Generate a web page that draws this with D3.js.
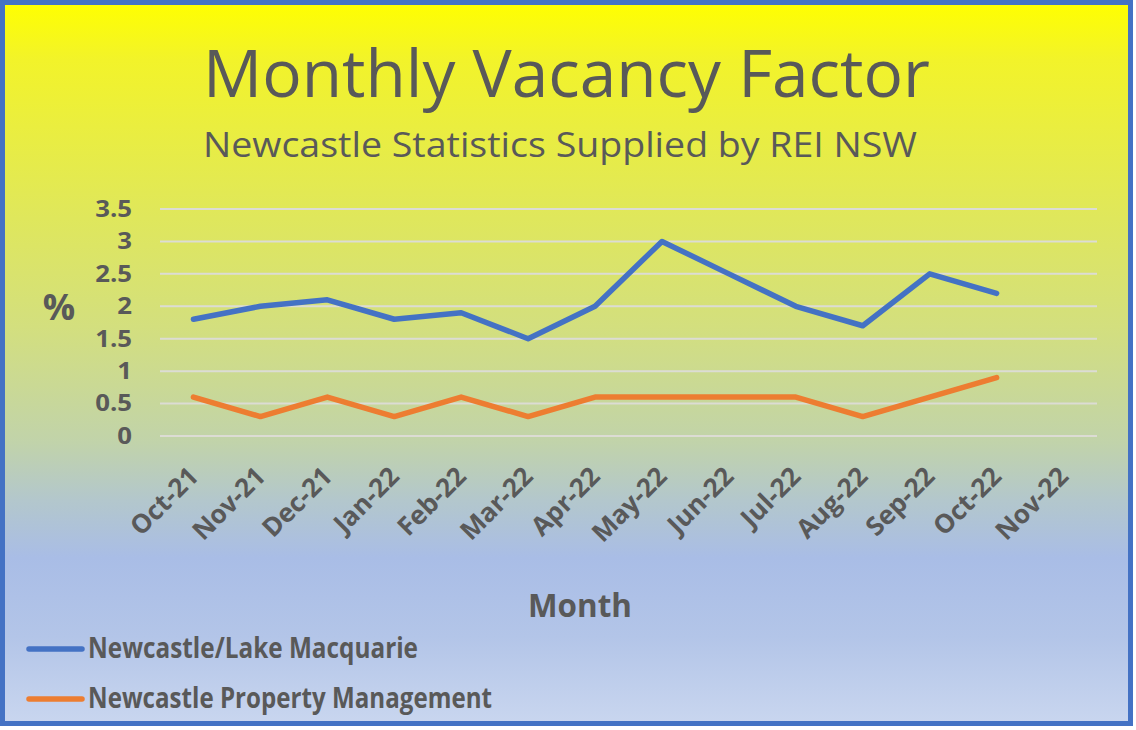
<!DOCTYPE html>
<html>
<head>
<meta charset="utf-8">
<script src="https://cdn.jsdelivr.net/npm/d3@7"></script>
<style>
  html, body { margin: 0; padding: 0; background: #fff; }
  svg { display: block; }
</style>
</head>
<body>
<svg id="chart" width="1136" height="730"></svg>
<script>
// chart data
const months = ['Oct-21', 'Nov-21', 'Dec-21', 'Jan-22', 'Feb-22', 'Mar-22', 'Apr-22',
  'May-22', 'Jun-22', 'Jul-22', 'Aug-22', 'Sep-22', 'Oct-22', 'Nov-22'];
const lakeMacquarie = [1.8, 2.0, 2.1, 1.8, 1.9, 1.5, 2.0, 3.0, 2.5, 2.0, 1.7, 2.5, 2.2, null];
const propertyMgmt = [0.6, 0.3, 0.6, 0.3, 0.6, 0.3, 0.6, 0.6, 0.6, 0.6, 0.3, 0.6, 0.9, null];
const yTicks = [0, 0.5, 1, 1.5, 2, 2.5, 3, 3.5];
const seriesNames = ['Newcastle/Lake Macquarie', 'Newcastle Property Management'];

const textColor = '#595959';
const colors = ['#4472c4', '#ed7d31'];
const font = "'Open Sans', sans-serif";

const svg = d3.select('#chart');

// Background gradient, yellow to blue
const defs = svg.append('defs');
const grad = defs.append('linearGradient')
  .attr('id', 'bg')
  .attr('x1', 0).attr('y1', 0).attr('x2', 0).attr('y2', 1);
[
  [0, '#ffff00'],
  [0.08, '#f2f32a'],
  [0.3, '#dfe75c'],
  [0.45, '#d3df7e'],
  [0.61, '#c1d3aa'],
  [0.69, '#b3c7cc'],
  [0.77, '#a9bde6'],
  [0.88, '#b3c5e8'],
  [1, '#c9d6ef']
].forEach(s => grad.append('stop').attr('offset', s[0]).attr('stop-color', s[1]));

svg.append('rect')
  .attr('x', 2.5).attr('y', 2.5)
  .attr('width', 1128).attr('height', 721)
  .attr('fill', 'url(#bg)')
  .attr('stroke', '#4472c4')
  .attr('stroke-width', 5);

// Titles
svg.append('text')
  .attr('x', 203).attr('y', 97)
  .attr('font-family', font).attr('font-size', 66)
  .attr('fill', textColor)
  .attr('textLength', 727).attr('lengthAdjust', 'spacingAndGlyphs')
  .text('Monthly Vacancy Factor');

svg.append('text')
  .attr('x', 203).attr('y', 157)
  .attr('font-family', font).attr('font-size', 35)
  .attr('fill', textColor)
  .attr('textLength', 714).attr('lengthAdjust', 'spacingAndGlyphs')
  .text('Newcastle Statistics Supplied by REI NSW');

// Scales
const x = d3.scalePoint()
  .domain(months)
  .range([160, 1097])
  .padding(0.5);

const y = d3.scaleLinear()
  .domain([0, 3.5])
  .range([436, 209]);

// Gridlines
svg.append('g')
  .selectAll('line')
  .data(yTicks)
  .join('line')
  .attr('x1', 160).attr('x2', 1097)
  .attr('y1', d => y(d)).attr('y2', d => y(d))
  .attr('stroke', '#dcdcd4')
  .attr('stroke-width', 2);

// Y axis labels
const yAxis = svg.append('g')
  .attr('transform', 'translate(140,0)')
  .call(d3.axisLeft(y).tickValues(yTicks).tickFormat(d3.format('')).tickSize(0).tickPadding(8));
yAxis.select('.domain').remove();
yAxis.selectAll('text')
  .attr('font-family', font).attr('font-size', 23).attr('font-weight', 700)
  .attr('fill', textColor)
  .attr('textLength', function() { return this.getComputedTextLength() * 1.12; })
  .attr('lengthAdjust', 'spacingAndGlyphs');

svg.append('text')
  .attr('x', 59).attr('y', 320)
  .attr('text-anchor', 'middle')
  .attr('font-family', font).attr('font-size', 36).attr('font-weight', 700)
  .attr('fill', textColor)
  .text('%');

// X axis labels, rotated
const xAxis = svg.append('g')
  .attr('transform', 'translate(0,436)')
  .call(d3.axisBottom(x).tickSize(0));
xAxis.select('.domain').remove();
xAxis.selectAll('text')
  .attr('font-family', font).attr('font-size', 26).attr('font-weight', 700)
  .attr('fill', textColor)
  .attr('text-anchor', 'end')
  .attr('dy', 0)
  .attr('y', 0)
  .attr('transform', 'translate(6,42) rotate(-45)');

svg.append('text')
  .attr('x', 580).attr('y', 617)
  .attr('text-anchor', 'middle')
  .attr('font-family', font).attr('font-size', 32).attr('font-weight', 700)
  .attr('fill', textColor)
  .attr('textLength', 104).attr('lengthAdjust', 'spacingAndGlyphs')
  .text('Month');

// Lines
const line = d3.line()
  .defined(d => d[1] != null)
  .x(d => x(d[0]))
  .y(d => y(d[1]));

[lakeMacquarie, propertyMgmt].forEach((vals, i) => {
  svg.append('path')
    .datum(months.map((m, j) => [m, vals[j]]))
    .attr('fill', 'none')
    .attr('stroke', colors[i])
    .attr('stroke-width', 5.5)
    .attr('stroke-linejoin', 'round')
    .attr('stroke-linecap', 'round')
    .attr('d', line);
});

// Legend
const legendWidths = [330, 404];
const legend = svg.append('g');
seriesNames.forEach((name, i) => {
  const ly = 649 + i * 50;
  legend.append('line')
    .attr('x1', 29).attr('x2', 82)
    .attr('y1', ly).attr('y2', ly)
    .attr('stroke', colors[i])
    .attr('stroke-width', 5.5)
    .attr('stroke-linecap', 'round');
  legend.append('text')
    .attr('x', 88).attr('y', ly + 9)
    .attr('font-family', font).attr('font-size', 29).attr('font-weight', 700)
    .attr('fill', textColor)
    .attr('textLength', legendWidths[i]).attr('lengthAdjust', 'spacingAndGlyphs')
    .text(name);
});
</script>
</body>
</html>
